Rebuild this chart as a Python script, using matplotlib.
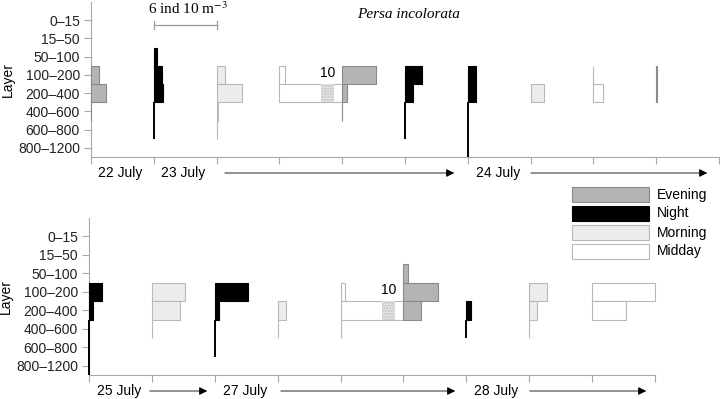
import numpy as np
import matplotlib
matplotlib.use('Agg')
import matplotlib.pyplot as plt
from matplotlib.patches import Rectangle

plt.rcParams['font.family'] = 'Liberation Sans'
plt.rcParams['mathtext.fontset'] = 'stix'

layers = ['0–15', '15–50', '50–100', '100–200', '200–400', '400–600', '600–800', '800–1200']
periods = ['Evening', 'Night', 'Morning', 'Midday']

n = np.nan
# abundance, ind 10 m-3, one row per sample (NaN = layer not sampled)
top_period = ['Evening', 'Night', 'Morning', 'Midday', 'Evening',
              'Night', 'Night', 'Morning', 'Midday', 'Evening']
top_values = [
    [n, n, n, 0.8, 1.4, 0, n, n],
    [n, n, 0.3, 0.8, 0.9, 0, 0, n],
    [n, n, n, 0.85, 2.4, 0.15, 0, n],
    [n, n, n, 0.55, 10, n, n, n],
    [n, n, n, 3.2, 0.5, 0, n, n],
    [n, n, n, 1.6, 0.8, 0, 0, n],
    [n, n, n, 0.8, 0.8, 0, 0, 0],
    [n, n, n, n, 1.3, n, n, n],
    [n, n, n, 0, 0.9, n, n, n],
    [n, n, n, 0.1, 0.1, n, n, n],
]
bottom_period = ['Night', 'Morning', 'Night', 'Morning', 'Midday',
                 'Evening', 'Night', 'Morning', 'Midday']
bottom_values = [
    [n, n, n, 1.2, 0.4, 0, 0, 0],
    [n, n, n, 3.2, 2.7, 0, n, n],
    [n, n, n, 3.2, 0.4, 0, 0, n],
    [n, n, n, n, 0.75, 0, n, n],
    [n, n, n, 0.45, 10, 0, n, n],
    [n, n, 0.4, 3.25, 1.7, n, n, n],
    [n, n, n, n, 0.4, 0, n, n],
    [n, n, n, 1.65, 0.75, 0, n, n],
    [n, n, n, 6.0, 3.2, n, n, n],
]

face = {'Evening': '#b4b4b4', 'Night': 'black', 'Morning': '#ececec', 'Midday': 'white'}
edge = {'Evening': '#8a8a8a', 'Night': 'black', 'Morning': '#b8b8b8', 'Midday': '#b8b8b8'}

step = 6    # one tick = 6 ind 10 m-3
cap = 6.1   # longer bars are drawn broken


def profiles(ax, period, values):
    for i, (p, vals) in enumerate(zip(period, values)):
        x0 = i * step
        for k, v in enumerate(vals):
            if np.isnan(v):
                continue
            lw = 1.4 if (p == 'Night' and v == 0) else 0.8
            ax.barh(k, min(v, cap), height=1.0, left=x0, color=face[p],
                    edgecolor=edge[p], linewidth=lw, zorder=3, clip_on=False)
            if v > cap:
                ax.add_patch(Rectangle((x0 + 4.0, k - 0.5), 1.2, 1.0, facecolor='#e4e4e4',
                                       edgecolor='#c0c0c0', hatch='......', lw=0, zorder=4))
                ax.text(x0 + 4.6, k - 1.1, f'{v:g}', ha='center', va='center', fontsize=10)


fig = plt.figure(figsize=(7.2, 3.99), dpi=100)
ax1 = fig.add_axes([91 / 720, 1 - 157 / 399, 628 / 720, 155 / 399])
ax2 = fig.add_axes([89 / 720, 1 - 375 / 399, 566 / 720, 157 / 399])

for ax, nt in ((ax1, 11), (ax2, 10)):
    ax.set_xlim(0, step * (nt - 1))
    ax.set_ylim(7.5, -1.0)
    ax.set_yticks(range(len(layers)))
    ax.set_yticklabels(layers)
    ax.set_xticks(np.arange(nt) * step)
    ax.set_xticklabels([])
    ax.tick_params(color='#a8a8a8', length=5, width=0.8, labelsize=10, pad=3, labelcolor='#222222')
    for s in ('top', 'right'):
        ax.spines[s].set_visible(False)
    for s in ('left', 'bottom'):
        ax.spines[s].set_color('#a8a8a8')
    ax.set_ylabel('Layer', fontsize=10, labelpad=2)

profiles(ax1, top_period, top_values)
profiles(ax2, bottom_period, bottom_values)

# overlay in pixel units for the notes, arrows and legend
ov = fig.add_axes([0, 0, 1, 1])
ov.set_xlim(0, 720)
ov.set_ylim(399, 0)
ov.axis('off')


def arrow(x1, x2, y):
    ov.annotate('', xy=(x2, y), xytext=(x1, y),
                arrowprops=dict(arrowstyle='-|>', color='black', lw=0.6, mutation_scale=12))


ov.text(120, 173, '22 July', ha='center', va='center', fontsize=10)
ov.text(183, 173, '23 July', ha='center', va='center', fontsize=10)
arrow(222, 457, 173)
ov.text(498, 173, '24 July', ha='center', va='center', fontsize=10)
arrow(528, 710, 173)

ov.text(119, 391, '25 July', ha='center', va='center', fontsize=10)
arrow(147, 210, 391)
ov.text(245, 391, '27 July', ha='center', va='center', fontsize=10)
arrow(278, 458, 391)
ov.text(496, 391, '28 July', ha='center', va='center', fontsize=10)
arrow(527, 649, 391)

# scale bar
ov.plot([154, 217], [25, 25], color='#999999', lw=0.9)
ov.plot([154, 154], [21, 29], color='#999999', lw=0.9)
ov.plot([217, 217], [21, 29], color='#999999', lw=0.9)
ov.text(188, 9, '6 ind 10 m$^{-3}$', ha='center', va='center', fontsize=11,
        family='Liberation Serif')
ov.text(409, 14, 'Persa incolorata', ha='center', va='center', fontsize=11,
        family='Liberation Serif', style='italic')

# legend
for j, p in enumerate(periods):
    y = 187 + 19 * j
    ov.add_patch(Rectangle((572, y), 77, 15, facecolor=face[p], edgecolor=edge[p], lw=0.8))
    ov.text(657, y + 7.5, p, va='center', fontsize=10)

fig.savefig('out.png', dpi=100)
